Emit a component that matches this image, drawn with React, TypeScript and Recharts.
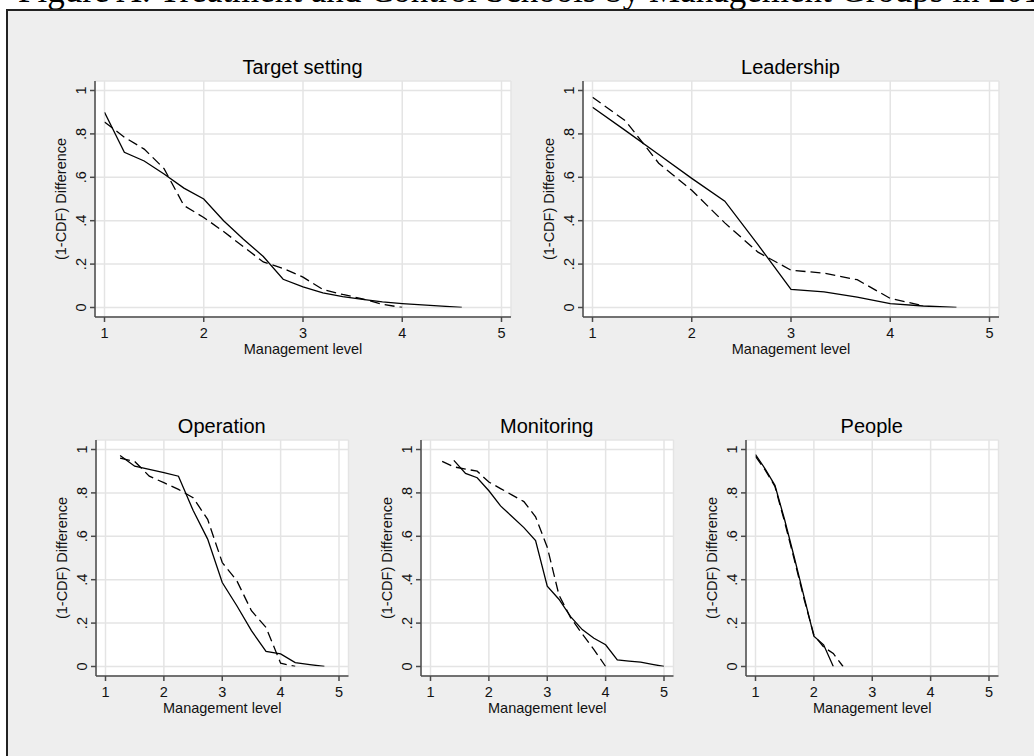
import React from 'react';
import { LineChart, Line, XAxis, YAxis, CartesianGrid } from 'recharts';

const SANS = "'Liberation Sans', Arial, Helvetica, sans-serif";
const SERIF = "'Liberation Serif', 'Times New Roman', serif";

const figureTitle = 'Figure A: Treatment and Control Schools by Management Groups in 2012';
const xAxisTitle = 'Management level';
const yAxisTitle = '(1-CDF) Difference';
const xTicks = [1, 2, 3, 4, 5];
const yTicks = [0, 0.2, 0.4, 0.6, 0.8, 1];
const yTickLabels = ['0', '.2', '.4', '.6', '.8', '1'];

// Target setting
const tsSolidX = [1, 1.2, 1.4, 1.6, 1.8, 2, 2.2, 2.4, 2.6, 2.8, 3, 3.2, 3.4, 3.6, 3.8, 4, 4.2, 4.4, 4.6];
const tsSolidY = [0.9, 0.715, 0.675, 0.615, 0.55, 0.5, 0.4, 0.315, 0.235, 0.13, 0.095, 0.067, 0.05, 0.037, 0.026, 0.018, 0.012, 0.006, 0];
const tsDashX = [1, 1.2, 1.4, 1.6, 1.8, 2, 2.2, 2.4, 2.6, 2.8, 3, 3.2, 3.4, 3.6, 3.8, 4];
const tsDashY = [0.855, 0.785, 0.73, 0.64, 0.47, 0.415, 0.35, 0.28, 0.21, 0.18, 0.14, 0.083, 0.06, 0.04, 0.015, 0];

// Leadership
const ldSolidX = [1, 1.333, 1.667, 2, 2.333, 2.667, 3, 3.333, 3.667, 4, 4.333, 4.667];
const ldSolidY = [0.923, 0.815, 0.705, 0.595, 0.49, 0.29, 0.083, 0.072, 0.048, 0.018, 0.007, 0];
const ldDashX = [1, 1.333, 1.667, 2, 2.333, 2.667, 3, 3.333, 3.667, 4, 4.333];
const ldDashY = [0.969, 0.86, 0.665, 0.54, 0.39, 0.255, 0.172, 0.158, 0.128, 0.042, 0.008];

// Operation
const opSolidX = [1.25, 1.5, 1.75, 2, 2.25, 2.5, 2.75, 3, 3.25, 3.5, 3.75, 4, 4.25, 4.5, 4.75];
const opSolidY = [0.972, 0.923, 0.908, 0.893, 0.877, 0.72, 0.587, 0.387, 0.28, 0.165, 0.07, 0.058, 0.018, 0.009, 0];
const opDashX = [1.25, 1.5, 1.75, 2, 2.25, 2.5, 2.75, 3, 3.25, 3.5, 3.75, 4, 4.25];
const opDashY = [0.96, 0.945, 0.877, 0.847, 0.816, 0.778, 0.678, 0.479, 0.395, 0.257, 0.18, 0.015, 0];

// Monitoring
const mnSolidX = [1.4, 1.6, 1.8, 2, 2.2, 2.4, 2.6, 2.8, 3, 3.2, 3.4, 3.6, 3.8, 4, 4.2, 4.4, 4.6, 4.8, 5];
const mnSolidY = [0.95, 0.89, 0.87, 0.81, 0.74, 0.69, 0.64, 0.58, 0.37, 0.31, 0.23, 0.17, 0.13, 0.1, 0.03, 0.025, 0.02, 0.01, 0];
const mnDashX = [1.2, 1.4, 1.6, 1.8, 2, 2.2, 2.4, 2.6, 2.8, 3, 3.2, 3.4, 3.6, 3.8, 4];
const mnDashY = [0.945, 0.92, 0.91, 0.9, 0.85, 0.82, 0.79, 0.76, 0.69, 0.55, 0.33, 0.225, 0.15, 0.078, 0];

// People
const ppSolidX = [1, 1.167, 1.333, 1.5, 1.667, 1.833, 2, 2.167, 2.333];
const ppSolidY = [0.977, 0.91, 0.835, 0.675, 0.5, 0.32, 0.14, 0.1, 0];
const ppDashX = [1, 1.167, 1.333, 1.5, 1.667, 1.833, 2, 2.167, 2.333, 2.5];
const ppDashY = [0.968, 0.905, 0.83, 0.665, 0.49, 0.31, 0.145, 0.09, 0.06, 0];

const zip = (xs: number[], ys: number[]) => xs.map((x, i) => ({ x, y: ys[i] }));

const GRID = '#e4e4e4';
const AXIS = '#4a4a4a';
const TXT = '#111';

const YW = 50;
const MT = 5;
const MR = 5;
const XH = 45;

const YTick = (props: any) => {
  const { x, y, payload } = props;
  const idx = yTicks.indexOf(payload.value);
  return (
    <text
      x={x}
      y={y}
      transform={`rotate(-90 ${x} ${y})`}
      textAnchor="middle"
      fontSize={14.5}
      fontFamily={SANS}
      fill={TXT}
    >
      {idx >= 0 ? yTickLabels[idx] : String(payload.value)}
    </text>
  );
};

const XLab = (p: any) => {
  const vb = p.viewBox;
  if (!vb) return null;
  return (
    <text x={vb.x + vb.width / 2} y={vb.y + 37} textAnchor="middle" fontSize={14.5} fontFamily={SANS} fill={TXT}>
      {xAxisTitle}
    </text>
  );
};

const YLab = (p: any) => {
  const vb = p.viewBox;
  if (!vb) return null;
  const x = vb.x + vb.width - 29;
  const y = vb.y + vb.height / 2;
  return (
    <text x={x} y={y} transform={`rotate(-90 ${x} ${y})`} textAnchor="middle" fontSize={14.5} fontFamily={SANS} fill={TXT}>
      {yAxisTitle}
    </text>
  );
};

type Box = { left: number; top: number; width: number; height: number };

function Panel({ title, box, solid, dashed }: { title: string; box: Box; solid: any[]; dashed: any[] }) {
  return (
    <>
      <div
        style={{
          position: 'absolute',
          left: box.left,
          top: box.top - 24,
          width: box.width,
          textAlign: 'center',
          fontFamily: SANS,
          fontSize: 20,
          lineHeight: '20px',
          color: '#000',
          whiteSpace: 'nowrap',
        }}
      >
        {title}
      </div>
      <div style={{ position: 'absolute', left: box.left - YW, top: box.top - MT }}>
        <LineChart
          width={YW + box.width + MR}
          height={MT + box.height + XH}
          margin={{ top: MT, right: MR, bottom: 0, left: 0 }}
        >
          <CartesianGrid stroke={GRID} strokeWidth={1.5} fill="#ffffff" fillOpacity={1} />
          <XAxis
            type="number"
            dataKey="x"
            domain={[1, 5]}
            ticks={xTicks}
            allowDataOverflow
            interval={0}
            padding={{ left: 9.5, right: 9.5 }}
            height={XH}
            tickSize={5}
            tickMargin={6}
            axisLine={{ stroke: AXIS, strokeWidth: 1.5 }}
            tickLine={{ stroke: AXIS, strokeWidth: 1.5 }}
            tick={{ fontSize: 14.5, fill: TXT, fontFamily: SANS }}
            label={{ content: XLab }}
          />
          <YAxis
            type="number"
            domain={[0, 1]}
            ticks={yTicks}
            allowDataOverflow
            interval={0}
            padding={{ top: 9.5, bottom: 9.5 }}
            width={YW}
            tickSize={5}
            tickMargin={4}
            axisLine={{ stroke: AXIS, strokeWidth: 1.5 }}
            tickLine={{ stroke: AXIS, strokeWidth: 1.5 }}
            tick={<YTick />}
            label={{ content: YLab }}
          />
          <Line
            data={solid}
            dataKey="y"
            type="linear"
            stroke="#000"
            strokeWidth={1.3}
            dot={false}
            activeDot={false}
            isAnimationActive={false}
          />
          <Line
            data={dashed}
            dataKey="y"
            type="linear"
            stroke="#000"
            strokeWidth={1.3}
            strokeDasharray="10 5"
            dot={false}
            activeDot={false}
            isAnimationActive={false}
          />
        </LineChart>
      </div>
    </>
  );
}

const panels = [
  { title: 'Target setting', box: { left: 94.5, top: 80.5, width: 416, height: 236 }, solid: zip(tsSolidX, tsSolidY), dashed: zip(tsDashX, tsDashY) },
  { title: 'Leadership', box: { left: 582.5, top: 80.5, width: 416, height: 236 }, solid: zip(ldSolidX, ldSolidY), dashed: zip(ldDashX, ldDashY) },
  { title: 'Operation', box: { left: 95.5, top: 439.5, width: 252.5, height: 236 }, solid: zip(opSolidX, opSolidY), dashed: zip(opDashX, opDashY) },
  { title: 'Monitoring', box: { left: 420.5, top: 439.5, width: 252.5, height: 236 }, solid: zip(mnSolidX, mnSolidY), dashed: zip(mnDashX, mnDashY) },
  { title: 'People', box: { left: 745.5, top: 439.5, width: 252.5, height: 236 }, solid: zip(ppSolidX, ppSolidY), dashed: zip(ppDashX, ppDashY) },
];

export default function App() {
  return (
    <div style={{ position: 'absolute', left: 0, top: 0, width: 1034, height: 756, overflow: 'hidden', background: '#fff' }}>
      <svg width={1034} height={20} style={{ position: 'absolute', left: 0, top: 0 }}>
        <text x={18} y={2} fontSize={35} fontFamily={SERIF} fill="#000">
          {figureTitle}
        </text>
      </svg>
      <div
        style={{
          position: 'absolute',
          left: 6,
          top: 9,
          width: 1100,
          height: 800,
          background: '#eeeeee',
          borderTop: '2px solid #222',
          borderLeft: '2px solid #222',
        }}
      />
      {panels.map((p) => (
        <Panel key={p.title} title={p.title} box={p.box} solid={p.solid} dashed={p.dashed} />
      ))}
    </div>
  );
}
